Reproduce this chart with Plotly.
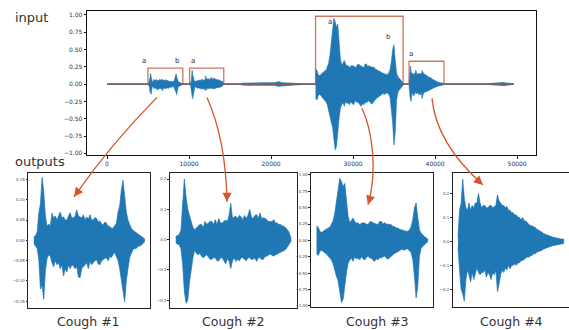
import plotly.graph_objects as go

W, H = 569, 330

# ---------------- data ----------------
# envelope (upper / lower amplitude per analysis frame) of each extracted cough
c1_hi = [0.008, 0.012, 0.02, 0.067, 0.09, 0.155, 0.12, 0.06, 0.035, 0.04, 0.035, 0.067, 0.055, 0.06,
         0.05, 0.062, 0.07, 0.055, 0.058, 0.05, 0.05, 0.06, 0.068, 0.055, 0.055, 0.06, 0.075, 0.06,
         0.058, 0.055, 0.063, 0.05, 0.058, 0.052, 0.063, 0.05, 0.05, 0.056, 0.054, 0.045, 0.048, 0.04,
         0.038, 0.045, 0.042, 0.035, 0.034, 0.03, 0.03, 0.038, 0.042, 0.07, 0.085, 0.124, 0.148, 0.11,
         0.07, 0.05, 0.04, 0.03, 0.025, 0.022, 0.018, 0.016, 0.014, 0.01, 0.008, 0.004]
c1_lo = [-0.008, -0.012, -0.02, -0.047, -0.12, -0.11, -0.145, -0.075, -0.045, -0.035, -0.04, -0.055,
         -0.065, -0.05, -0.06, -0.055, -0.07, -0.06, -0.088, -0.07, -0.078, -0.06, -0.07, -0.06, -0.063,
         -0.07, -0.065, -0.09, -0.092, -0.07, -0.063, -0.06, -0.055, -0.07, -0.052, -0.06, -0.055, -0.05,
         -0.048, -0.058, -0.06, -0.05, -0.048, -0.044, -0.043, -0.05, -0.04, -0.042, -0.035, -0.03, -0.04,
         -0.05, -0.07, -0.095, -0.12, -0.152, -0.1, -0.07, -0.043, -0.035, -0.023, -0.02, -0.02, -0.015,
         -0.014, -0.012, -0.009, -0.004]

c2_hi = [0.01, 0.015, 0.017, 0.03, 0.1, 0.2, 0.14, 0.1, 0.08, 0.055, 0.04, 0.033, 0.04, 0.044, 0.05,
         0.05, 0.04, 0.06, 0.05, 0.055, 0.06, 0.06, 0.05, 0.066, 0.05, 0.07, 0.055, 0.055, 0.06, 0.065,
         0.06, 0.08, 0.12, 0.07, 0.075, 0.077, 0.07, 0.08, 0.075, 0.066, 0.08, 0.07, 0.08, 0.1, 0.075,
         0.07, 0.08, 0.083, 0.07, 0.088, 0.07, 0.072, 0.07, 0.066, 0.06, 0.06, 0.06, 0.066, 0.055, 0.055,
         0.05, 0.05, 0.045, 0.044, 0.04, 0.033, 0.022, 0.006]
c2_lo = [-0.01, -0.015, -0.017, -0.03, -0.08, -0.17, -0.21, -0.2, -0.14, -0.1, -0.06, -0.035, -0.045,
         -0.05, -0.045, -0.055, -0.06, -0.055, -0.05, -0.055, -0.065, -0.065, -0.06, -0.06, -0.07, -0.07,
         -0.06, -0.06, -0.07, -0.08, -0.065, -0.07, -0.095, -0.07, -0.06, -0.072, -0.065, -0.07, -0.06,
         -0.06, -0.065, -0.07, -0.06, -0.06, -0.065, -0.065, -0.06, -0.072, -0.06, -0.06, -0.065, -0.065,
         -0.055, -0.055, -0.05, -0.048, -0.05, -0.055, -0.05, -0.048, -0.044, -0.042, -0.038, -0.036,
         -0.032, -0.024, -0.016, -0.006]

c3_hi = [0.22, 0.2, 0.14, 0.12, 0.14, 0.16, 0.17, 0.19, 0.2, 0.24, 0.3, 0.42, 0.6, 0.75, 0.95, 0.9,
         0.82, 0.87, 0.57, 0.37, 0.27, 0.31, 0.34, 0.29, 0.26, 0.27, 0.24, 0.26, 0.27, 0.26, 0.25, 0.24,
         0.28, 0.29, 0.27, 0.26, 0.24, 0.24, 0.29, 0.29, 0.25, 0.27, 0.25, 0.25, 0.24, 0.24, 0.21, 0.21,
         0.19, 0.19, 0.17, 0.16, 0.15, 0.15, 0.14, 0.14, 0.16, 0.21, 0.32, 0.5, 0.57, 0.35, 0.16, 0.11,
         0.08, 0.06, 0.04, 0.02]
c3_lo = [-0.2, -0.23, -0.17, -0.15, -0.16, -0.19, -0.21, -0.24, -0.26, -0.3, -0.36, -0.45, -0.55, -0.62,
         -0.75, -0.95, -0.9, -0.7, -0.5, -0.35, -0.3, -0.27, -0.32, -0.25, -0.28, -0.27, -0.3, -0.25,
         -0.28, -0.3, -0.26, -0.24, -0.27, -0.27, -0.3, -0.32, -0.28, -0.3, -0.26, -0.27, -0.25, -0.24,
         -0.27, -0.29, -0.26, -0.24, -0.22, -0.2, -0.19, -0.17, -0.16, -0.14, -0.14, -0.15, -0.13, -0.13,
         -0.15, -0.19, -0.3, -0.55, -0.88, -0.7, -0.24, -0.12, -0.09, -0.06, -0.04, -0.02]

c4_hi = [0.02, 0.13, 0.16, 0.26, 0.18, 0.14, 0.13, 0.16, 0.13, 0.15, 0.14, 0.16, 0.16, 0.2, 0.16, 0.14,
         0.15, 0.15, 0.14, 0.14, 0.15, 0.15, 0.14, 0.146, 0.15, 0.195, 0.17, 0.16, 0.15, 0.15, 0.14,
         0.146, 0.13, 0.13, 0.12, 0.12, 0.11, 0.11, 0.1, 0.1, 0.09, 0.1, 0.085, 0.085, 0.075, 0.07,
         0.065, 0.065, 0.06, 0.058, 0.05, 0.048, 0.042, 0.04, 0.033, 0.03, 0.028, 0.026, 0.022, 0.02,
         0.018, 0.016, 0.014, 0.014, 0.012, 0.01, 0.01, 0.009]
c4_lo = [-0.025, -0.12, -0.2, -0.22, -0.25, -0.16, -0.12, -0.14, -0.17, -0.13, -0.16, -0.14, -0.11,
         -0.13, -0.14, -0.13, -0.13, -0.12, -0.15, -0.13, -0.14, -0.16, -0.13, -0.14, -0.12, -0.21, -0.18,
         -0.14, -0.12, -0.13, -0.11, -0.12, -0.1, -0.115, -0.1, -0.1, -0.095, -0.1, -0.09, -0.09, -0.08,
         -0.08, -0.075, -0.07, -0.065, -0.066, -0.06, -0.058, -0.052, -0.052, -0.045, -0.045, -0.04,
         -0.038, -0.033, -0.03, -0.027, -0.026, -0.022, -0.02, -0.018, -0.015, -0.014, -0.013, -0.012,
         -0.01, -0.01, -0.009]

cough_hi = [c1_hi, c2_hi, c3_hi, c4_hi]
cough_lo = [c1_lo, c2_lo, c3_lo, c4_lo]

# segmentation of the input recording (sample indices) and mask heights
seg_start = [4988, 10061, 25426, 36825]
seg_end = [9246, 14234, 36095, 41080]
seg_height = [0.23, 0.23, 0.98, 0.33]
signal_end = 49600

# low-level background noise in the recording (non-cough parts)
noise_t = [16400, 17200, 18000, 18800, 19600, 20400, 20900, 21400, 22200, 23000, 23600,
           46600, 47200, 47800, 48300, 48800, 49300]
noise_hi = [0.012, 0.018, 0.016, 0.018, 0.015, 0.018, 0.035, 0.018, 0.015, 0.012, 0.006,
            0.008, 0.014, 0.016, 0.022, 0.014, 0.008]
noise_lo = [-0.012, -0.018, -0.016, -0.018, -0.015, -0.018, -0.03, -0.018, -0.015, -0.012, -0.006,
            -0.008, -0.014, -0.016, -0.022, -0.014, -0.008]

# phase labels above the segments
label_text = ["a", "b", "a", "a", "b", "a"]
label_x = [4550, 8600, 10430, 27210, 34270, 37070]
label_y = [0.34, 0.34, 0.34, 0.90, 0.68, 0.44]

main_xticks = [0, 10000, 20000, 30000, 40000, 50000]
main_yticks = [-1.0, -0.75, -0.5, -0.25, 0.0, 0.25, 0.5, 0.75, 1.0]
panel_yticks = [
    [-0.15, -0.10, -0.05, 0.0, 0.05, 0.10, 0.15],
    [-0.2, -0.1, 0.0, 0.1, 0.2],
    [-1.0, -0.75, -0.5, -0.25, 0.0, 0.25, 0.5, 0.75, 1.0],
    [-0.2, -0.1, 0.0, 0.1, 0.2],
]
panel_yfmt = [".2f", ".1f", ".2f", ".1f"]
panel_yrange = [[-0.167, 0.166], [-0.226, 0.22], [-1.02, 1.03], [-0.275, 0.286]]
titles = ["Cough #1", "Cough #2", "Cough #3", "Cough #4"]

# ---------------- figure ----------------
BLUE = "#1f77b4"
MASK = "rgba(188,82,50,0.78)"
ARROW = "#d6552b"
FONT = "DejaVu Sans"


def px(x):
    return x / W


def py(y):
    return 1 - y / H


fig = go.Figure()


def frames(start, end, n):
    step = (end - start) / (n - 1)
    return [start + i * step for i in range(n)]


def envelope_poly(t, hi, lo):
    return t + t[::-1], hi + lo[::-1]


# main: baseline of the signal
fig.add_trace(go.Scatter(x=[0, signal_end], y=[0, 0], mode="lines",
                         line=dict(color=BLUE, width=1.6), xaxis="x", yaxis="y",
                         hoverinfo="skip", showlegend=False))
# main: noise
for a, b in [(0, 11), (11, len(noise_t))]:
    xs, ys = envelope_poly(noise_t[a:b], noise_hi[a:b], noise_lo[a:b])
    fig.add_trace(go.Scatter(x=xs, y=ys, mode="lines", fill="toself", fillcolor=BLUE,
                             line=dict(color=BLUE, width=0.8), xaxis="x", yaxis="y",
                             hoverinfo="skip", showlegend=False))
# main: coughs
for k in range(4):
    t = frames(seg_start[k], seg_end[k], len(cough_hi[k]))
    xs, ys = envelope_poly(t, cough_hi[k], cough_lo[k])
    fig.add_trace(go.Scatter(x=xs, y=ys, mode="lines", fill="toself", fillcolor=BLUE,
                             line=dict(color=BLUE, width=0.6), xaxis="x", yaxis="y",
                             hoverinfo="skip", showlegend=False))
# main: segmentation mask
mx, my = [0], [0]
for s, e, h in zip(seg_start, seg_end, seg_height):
    mx += [s, s, e, e]
    my += [0, h, h, 0]
mx.append(signal_end)
my.append(0)
fig.add_trace(go.Scatter(x=mx, y=my, mode="lines", line=dict(color=MASK, width=1.3),
                         xaxis="x", yaxis="y", hoverinfo="skip", showlegend=False))

# panels
for k in range(4):
    n = len(cough_hi[k])
    dur = seg_end[k] - seg_start[k]
    t = frames(0, dur, n)
    xs, ys = envelope_poly(t, cough_hi[k], cough_lo[k])
    fig.add_trace(go.Scatter(x=xs, y=ys, mode="lines", fill="toself", fillcolor=BLUE,
                             line=dict(color=BLUE, width=0.7),
                             xaxis=f"x{k + 2}", yaxis=f"y{k + 2}",
                             hoverinfo="skip", showlegend=False))

layout = dict(
    width=W, height=H,
    margin=dict(l=0, r=0, t=0, b=0),
    paper_bgcolor="white", plot_bgcolor="white",
    font=dict(family=FONT, color="#262626"),
    showlegend=False,
)

layout["xaxis"] = dict(domain=[px(87), px(536)], range=[-2440, 52300], anchor="y",
                       tickvals=main_xticks, ticktext=[str(v) for v in main_xticks],
                       showgrid=False, zeroline=False, showline=True, mirror=True,
                       linecolor="#111", linewidth=1, ticks="outside", ticklen=2.5,
                       tickcolor="#111", tickfont=dict(size=6, family=FONT, color="#333"))
layout["yaxis"] = dict(domain=[py(155), py(10)], range=[-1.025, 1.057], anchor="x",
                       tickvals=main_yticks, tickformat=".2f",
                       showgrid=False, zeroline=False, showline=True, mirror=True,
                       linecolor="#111", linewidth=1, ticks="outside", ticklen=2.5,
                       tickcolor="#111", tickfont=dict(size=6, family=FONT, color="#333"))

panel_x = [(28.3, 150), (170, 296.7), (311, 433.3), (452.7, 569)]
panel_y = [(173, 309), (173, 309), (173, 308), (173, 308)]
for k in range(4):
    dur = seg_end[k] - seg_start[k]
    x0, x1 = panel_x[k]
    y0, y1 = panel_y[k]
    layout[f"xaxis{k + 2}"] = dict(domain=[px(x0), min(1.0, px(x1))],
                                   range=[-0.05 * dur, 1.05 * dur], anchor=f"y{k + 2}",
                                   showticklabels=False, ticks="", showgrid=False, zeroline=False,
                                   showline=True, mirror=True, linecolor="#222", linewidth=1.2)
    layout[f"yaxis{k + 2}"] = dict(domain=[py(y1), py(y0)], range=panel_yrange[k],
                                   anchor=f"x{k + 2}", tickvals=panel_yticks[k],
                                   tickformat=panel_yfmt[k], showgrid=False, zeroline=False,
                                   showline=True, mirror=(k < 3), linecolor="#222", linewidth=1.2,
                                   ticks="outside", ticklen=1.5, tickcolor="#222",
                                   tickfont=dict(size=4, family=FONT, color="#444"))

annotations = []
for txt, x, y in zip(label_text, label_x, label_y):
    annotations.append(dict(x=x, y=y, xref="x", yref="y", text=txt, showarrow=False,
                            font=dict(size=7, family=FONT, color="#333")))
annotations.append(dict(x=px(13), y=py(17), xref="paper", yref="paper", text="input",
                        showarrow=False, xanchor="left", yanchor="middle",
                        font=dict(size=13, family=FONT, color="#333")))
annotations.append(dict(x=px(13), y=py(161), xref="paper", yref="paper", text="outputs",
                        showarrow=False, xanchor="left", yanchor="middle",
                        font=dict(size=13, family=FONT, color="#333")))
title_cx = [88, 234, 377, 512]
for txt, cx in zip(titles, title_cx):
    annotations.append(dict(x=px(cx), y=py(322), xref="paper", yref="paper", text=txt,
                            showarrow=False, xanchor="center", yanchor="middle",
                            font=dict(size=12.5, family=FONT, color="#333")))

# curved arrows from segments to extracted coughs
arrow_paths = [
    [(157, 97), (110, 145), None, (74, 197)],
    [(207, 97), (226, 140), None, (227, 202)],
    [(362, 108), (372, 130), (378, 170), (368, 205)],
    [(432, 98), (435, 130), (455, 160), (483, 185)],
]
shapes = []
for p in arrow_paths:
    a, c1, c2, b = p
    if c2 is None:
        d = f"M {px(a[0])},{py(a[1])} Q {px(c1[0])},{py(c1[1])} {px(b[0])},{py(b[1])}"
    else:
        d = (f"M {px(a[0])},{py(a[1])} C {px(c1[0])},{py(c1[1])} {px(c2[0])},{py(c2[1])} "
             f"{px(b[0])},{py(b[1])}")
    shapes.append(dict(type="path", path=d, xref="paper", yref="paper",
                       line=dict(color=ARROW, width=1.3), layer="above"))
heads = [((74, 197), 6, -8), ((227, 202), 0, -10), ((368, 205), 3, -10), ((483, 185), -7.5, -6.7)]
for (tx, ty), ax, ay in heads:
    annotations.append(dict(x=px(tx), y=py(ty), xref="paper", yref="paper", text="",
                            showarrow=True, ax=ax, ay=ay, arrowhead=2, arrowsize=1.4,
                            arrowwidth=1.3, arrowcolor=ARROW, standoff=0))

layout["annotations"] = annotations
layout["shapes"] = shapes
fig.update_layout(**layout)
fig.write_html("out.html", config={"displayModeBar": False},
               post_script="document.body.style.margin='0';document.body.style.overflow='hidden';")
